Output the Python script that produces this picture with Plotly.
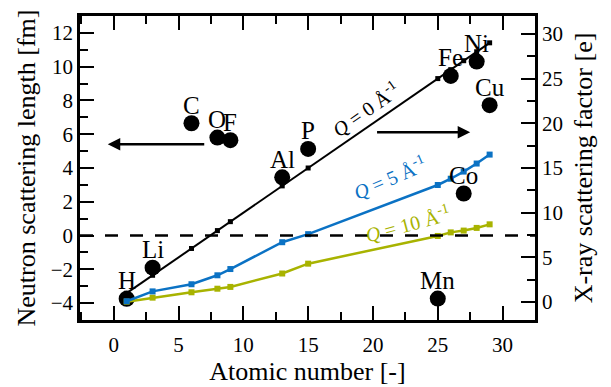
import plotly.graph_objects as go

# ---- data ----
elements = ["H", "Li", "C", "O", "F", "Al", "P", "Mn", "Fe", "Co", "Ni", "Cu"]
atomic_number = [1, 3, 6, 8, 9, 13, 15, 25, 26, 27, 28, 29]
neutron_b = [-3.74, -1.90, 6.65, 5.80, 5.65, 3.45, 5.13, -3.73, 9.45, 2.49, 10.3, 7.72]

z_line = [1, 3, 6, 8, 9, 13, 15, 25, 26, 27, 28, 29]
xray_q0 = [1, 3, 6, 8, 9, 13, 15, 25, 26, 27, 28, 29]
xray_q5 = [0.1, 1.2, 2.0, 3.0, 3.7, 6.7, 7.6, 13.1, 13.8, 14.6, 15.5, 16.5]
xray_q10 = [0.05, 0.5, 1.1, 1.5, 1.7, 3.2, 4.3, 7.4, 7.8, 8.0, 8.3, 8.7]

x_ticks = [0, 5, 10, 15, 20, 25, 30]
left_ticks = [-4, -2, 0, 2, 4, 6, 8, 10, 12]
right_ticks = [0, 5, 10, 15, 20, 25, 30]

BLUE = "#0b72c4"
YELLOW = "#a8b300"
FONT = "Liberation Serif"

fig = go.Figure()

fig.add_trace(go.Scatter(x=z_line, y=xray_q10, yaxis="y2", mode="lines+markers",
                         line=dict(color=YELLOW, width=2.5),
                         marker=dict(symbol="square", size=6, color=YELLOW),
                         showlegend=False))
fig.add_trace(go.Scatter(x=z_line, y=xray_q5, yaxis="y2", mode="lines+markers",
                         line=dict(color=BLUE, width=2.5),
                         marker=dict(symbol="square", size=6, color=BLUE),
                         showlegend=False))
fig.add_trace(go.Scatter(x=z_line, y=xray_q0, yaxis="y2", mode="lines+markers",
                         line=dict(color="black", width=2),
                         marker=dict(symbol="square", size=5, color="black"),
                         showlegend=False))
fig.add_trace(go.Scatter(x=atomic_number, y=neutron_b, yaxis="y", mode="markers",
                         marker=dict(size=16, color="black"),
                         cliponaxis=False, showlegend=False))

# element labels just above each dot
for name, z, b in zip(elements, atomic_number, neutron_b):
    fig.add_annotation(x=z, y=b, xref="x", yref="y", text=name, showarrow=False,
                       yshift=18, font=dict(family=FONT, size=25, color="black"))

fig.add_shape(type="line", xref="paper", x0=0, x1=1, yref="y", y0=0, y1=0,
              line=dict(color="black", width=2.5, dash="13px,12px"), layer="above")

axis_common = dict(showline=True, linecolor="black", linewidth=2.5,
                   ticks="inside", ticklen=14, tickwidth=2, tickcolor="black",
                   showgrid=False, zeroline=False, automargin=False,
                   tickfont=dict(family=FONT, size=21, color="black"))

fig.update_layout(
    width=611, height=387,
    margin=dict(l=80, r=76, t=16, b=67),
    paper_bgcolor="white", plot_bgcolor="white",
    font=dict(family=FONT, color="black"),
    xaxis=dict(range=[-2.6, 32.5], tickvals=x_ticks, mirror="ticks", ticklabelstandoff=4,
               minor=dict(dtick=2.5, ticklen=8, tickwidth=2, ticks="inside", tickcolor="black"),
               title=dict(text="Atomic number [-]", font=dict(family=FONT, size=26), standoff=6),
               **axis_common),
    yaxis=dict(range=[-5, 13], tickvals=left_ticks,
               minor=dict(dtick=1, ticklen=8, tickwidth=2, ticks="inside", tickcolor="black"),
               title=dict(text="Neutron scattering length [fm]", font=dict(family=FONT, size=26), standoff=8),
               **axis_common),
    yaxis2=dict(range=[-2, 32], tickvals=right_ticks, overlaying="y", side="right",
                minor=dict(dtick=2.5, ticklen=8, tickwidth=2, ticks="inside", tickcolor="black"),
                title=dict(text="X-ray scattering factor [e]", font=dict(family=FONT, size=26), standoff=12),
                **axis_common),
)

# arrows
fig.add_annotation(x=-0.46, y=5.4, xref="x", yref="y", ax=7.1, ay=5.4, axref="x", ayref="y",
                   text="", showarrow=True, arrowhead=2, arrowsize=1, arrowwidth=2.5, arrowcolor="black")
fig.add_annotation(x=27.5, y=19.0, xref="x", yref="y2", ax=20.2, ay=19.0, axref="x", ayref="y2",
                   text="", showarrow=True, arrowhead=2, arrowsize=1, arrowwidth=2.5, arrowcolor="black")

# curve labels
fig.add_annotation(x=19.4, y=21.6, xref="x", yref="y2", text="<i>Q</i> = 0 Å<sup>-1</sup>",
                   showarrow=False, textangle=-35, font=dict(family=FONT, size=20, color="black"))
fig.add_annotation(x=21.3, y=14.0, xref="x", yref="y2", text="<i>Q</i> = 5 Å<sup>-1</sup>",
                   showarrow=False, textangle=-23, font=dict(family=FONT, size=20, color=BLUE))
fig.add_annotation(x=22.7, y=8.9, xref="x", yref="y2", text="<i>Q</i> = 10 Å<sup>-1</sup>",
                   showarrow=False, textangle=-15, font=dict(family=FONT, size=20, color=YELLOW))

fig.write_html("out.html")
